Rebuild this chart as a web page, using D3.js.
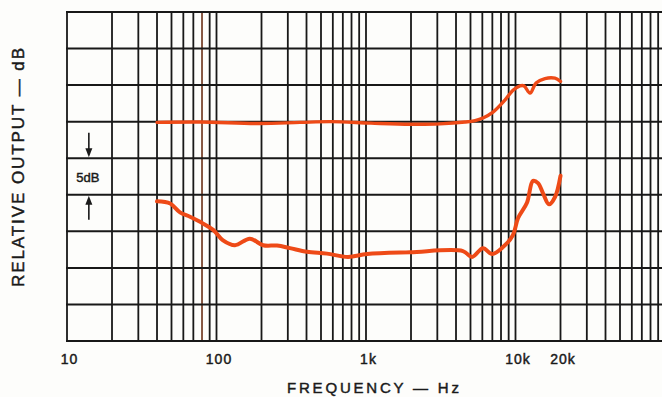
<!DOCTYPE html>
<html>
<head>
<meta charset="utf-8">
<script src="https://cdn.jsdelivr.net/npm/d3@7"></script>
<style>
  html, body { margin: 0; padding: 0; background: #fdfdfb; }
  svg { display: block; }
  text { font-family: "Liberation Sans", "DejaVu Sans", sans-serif; fill: #1a1a1a; stroke: #1a1a1a; stroke-width: 0.45px; }
</style>
</head>
<body>
<svg id="chart" width="662" height="397"></svg>
<script>
// ---- data ----
const xTickValues = [10, 100, 1000, 10000, 20000];
const xTickLabels = ["10", "100", "1k", "10k", "20k"];
const yGridValues = [0, 5, 10, 15, 20, 25, 30, 35, 40, 45];

const topFreq = [40, 78, 195, 362, 583, 1080, 1970, 3130, 4590, 5360, 6060, 7070, 8500, 9620, 10720, 11400, 12500, 13720, 15740, 18370, 20000];
const topDb   = [29.9, 29.95, 29.75, 29.9, 30.0, 29.8, 29.65, 29.7, 29.95, 30.15, 30.5, 31.3, 32.95, 34.3, 34.9, 34.9, 33.9, 35.3, 35.9, 35.95, 35.5];

const botFreq = [40, 49, 57, 66.5, 77.6, 95, 110, 133, 167, 205, 254, 310, 403, 548, 758, 1016, 1970, 4450, 5120, 6060, 6970, 8250, 9620, 10390, 11930, 13090, 14150, 15290, 16760, 18380, 20000];
const botDb   = [19.1, 18.8, 17.6, 17.0, 16.3, 15.2, 13.8, 13.1, 14.0, 13.1, 13.05, 12.7, 12.2, 11.95, 11.5, 11.9, 12.15, 12.3, 11.5, 12.7, 11.9, 12.85, 14.5, 16.8, 18.9, 21.9, 21.6, 20.2, 18.7, 19.7, 22.6];

// ---- scales ----
const svg = d3.select("#chart");
const x = d3.scaleLog().domain([10, 100000]).range([67, 665]);
const y = d3.scaleLinear().domain([0, 45]).range([341, 12]);

const gridColor = "#181818";
const curveColor = "#ee4a17";

// vertical grid lines (1..9 per decade)
const vLines = [];
for (let d = 10; d < 100000; d *= 10) {
  for (let m = 1; m <= 9; m++) vLines.push(d * m);
}
svg.append("g").selectAll("line").data(vLines).join("line")
  .attr("x1", d => x(d)).attr("x2", d => x(d))
  .attr("y1", y(45) - 0.9).attr("y2", y(0) + 0.9)
  .attr("stroke", d => d === 80 ? "#7a4630" : gridColor)
  .attr("stroke-width", 1.8);

// horizontal grid lines
svg.append("g").selectAll("line").data(yGridValues).join("line")
  .attr("x1", x(10) - 0.9).attr("x2", 662)
  .attr("y1", d => y(d)).attr("y2", d => y(d))
  .attr("stroke", gridColor)
  .attr("stroke-width", 2);

// x tick labels via axis
const xAxis = d3.axisBottom(x).tickValues(xTickValues)
  .tickFormat((d, i) => xTickLabels[i]).tickSize(0).tickPadding(0);
const gx = svg.append("g").attr("transform", `translate(0, ${y(0)})`).call(xAxis);
gx.select(".domain").remove();
gx.selectAll("text")
  .attr("dy", 0).attr("y", 23)
  .attr("dx", 2)
  .style("font-size", "14px")
  .style("font-family", "'Liberation Sans', sans-serif")
  .attr("fill", "#1a1a1a")
  .attr("letter-spacing", "1px");

// axis titles
svg.append("text")
  .attr("x", 287).attr("y", 393)
  .attr("textLength", 172).attr("lengthAdjust", "spacing")
  .style("font-size", "15px")
  .text("FREQUENCY — Hz");

svg.append("text")
  .attr("transform", "translate(24, 287) rotate(-90)")
  .attr("x", 0).attr("y", 0)
  .attr("textLength", 239).attr("lengthAdjust", "spacing")
  .style("font-size", "17px")
  .text("RELATIVE OUTPUT — dB");

// 5 dB annotation
const ax = x(14);
const ann = svg.append("g").attr("stroke", "#1a1a1a").attr("fill", "#1a1a1a");
ann.append("line").attr("x1", ax).attr("x2", ax).attr("y1", y(28.5)).attr("y2", y(25) - 6).attr("stroke-width", 1.6);
ann.append("path").attr("d", `M${ax - 3.5},${y(25) - 10} L${ax + 3.5},${y(25) - 10} L${ax},${y(25) - 1} Z`).attr("stroke", "none");
ann.append("line").attr("x1", ax).attr("x2", ax).attr("y1", y(20) + 6).attr("y2", y(16.6)).attr("stroke-width", 1.6);
ann.append("path").attr("d", `M${ax - 3.5},${y(20) + 10} L${ax + 3.5},${y(20) + 10} L${ax},${y(20) + 1} Z`).attr("stroke", "none");
svg.append("text")
  .attr("x", ax - 1).attr("y", y(22.5) + 5)
  .attr("text-anchor", "middle")
  .style("font-size", "13px")
  .text("5dB");

// curves
const line = d3.line()
  .x(d => x(d[0])).y(d => y(d[1]))
  .curve(d3.curveCatmullRom.alpha(0.5));

svg.append("path")
  .datum(topFreq.map((f, i) => [f, topDb[i]]))
  .attr("d", line)
  .attr("fill", "none")
  .attr("stroke", curveColor)
  .attr("stroke-width", 3.4)
  .attr("stroke-linecap", "round")
  .attr("stroke-linejoin", "round");

svg.append("path")
  .datum(botFreq.map((f, i) => [f, botDb[i]]))
  .attr("d", line)
  .attr("fill", "none")
  .attr("stroke", curveColor)
  .attr("stroke-width", 4)
  .attr("stroke-linecap", "round")
  .attr("stroke-linejoin", "round");
</script>
</body>
</html>
